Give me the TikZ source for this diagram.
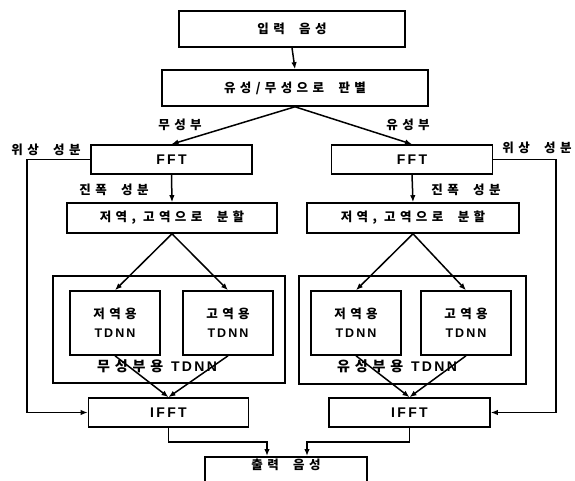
\documentclass[tikz,border=0pt]{standalone}
\usepackage{fontspec}
\setmainfont{Liberation Sans}
\newfontfamily\krfont[LetterSpace=35]{Noto Sans CJK KR}
\newcommand{\ko}[1]{{\krfont\bfseries #1}}
\usetikzlibrary{positioning, arrows.meta, calc}

\begin{document}
\begin{tikzpicture}[
  x=1pt, y=-1pt,
  font=\fontsize{12.5}{19}\selectfont,
  blk/.style={draw, line width=1.6pt, align=center, inner sep=2pt},
  frame/.style={draw, line width=1.6pt},
  arr/.style={-{Latex[length=7pt,width=5.5pt]}, line width=1.5pt},
  lbl/.style={inner sep=1pt, font=\fontsize{12.5}{14}\selectfont\krfont\bfseries},
  lat/.style={font=\fontsize{14}{19}\selectfont\bfseries}
]
\useasboundingbox (0,0) rectangle (575,481);

% --- input and voiced/unvoiced decision ---
\node[blk, minimum width=226, minimum height=36] (inp) at (292,29) {\ko{입력 \ 음성}};
\node[blk, minimum width=266, minimum height=36] (cls) at (295,88) {\ko{유성/무성으로 \ 판별}};
\draw[arr] (inp.south) -- (cls.north);

% --- FFT ---
\node[blk, lat, minimum width=161, minimum height=29] (fftL) at (171.5,159.5) {F\,F\,T};
\node[blk, lat, minimum width=161, minimum height=29] (fftR) at (412,159.5) {F\,F\,T};
\draw[arr] (cls.south) -- (fftL.north);
\draw[arr] (cls.south) -- (fftR.north);
\node[lbl] (uvL) at (180,125) {무성부};
\node[lbl] (vR) at (408,125) {유성부};

% --- band split ---
\node[blk, minimum width=210, minimum height=30] (splL) at (172,218) {\ko{저역, 고역으로 \ 분할}};
\node[blk, minimum width=212, minimum height=30] (splR) at (413,218) {\ko{저역, 고역으로 \ 분할}};
\draw[arr] (fftL.south) -- (splL.north);
\draw[arr] (fftR.south) -- (splR.north);
\node[lbl] (ampL) at (114,190) {진폭 \ 성분};
\node[lbl] (ampR) at (466,190) {진폭 \ 성분};

% --- TDNN groups ---
\node[frame, minimum width=232, minimum height=107] (grpL) at (169,329.5) {};
\node[frame, minimum width=227, minimum height=108] (grpR) at (412.5,330) {};
\node[blk, minimum width=90, minimum height=64] (loL) at (115,323) {\ko{저역용}\\{\bfseries T\,D\,N\,N}};
\node[blk, minimum width=90, minimum height=64] (hiL) at (228,323) {\ko{고역용}\\{\bfseries T\,D\,N\,N}};
\node[blk, minimum width=90, minimum height=64] (loR) at (356,323) {\ko{저역용}\\{\bfseries T\,D\,N\,N}};
\node[blk, minimum width=90, minimum height=64] (hiR) at (466,323) {\ko{고역용}\\{\bfseries T\,D\,N\,N}};
\node[inner sep=1pt, lat] (capL) at (157,366) {\ko{무성부용}\ \ T\,D\,N\,N};
\node[inner sep=1pt, lat] (capR) at (397,366) {\ko{유성부용}\ \ T\,D\,N\,N};
\draw[arr] (splL.south) -- (loL.north);
\draw[arr] (splL.south) -- (hiL.north);
\draw[arr] (splR.south) -- (loR.north);
\draw[arr] (splR.south) -- (hiR.north);

% --- IFFT ---
\node[blk, lat, minimum width=160, minimum height=29] (ifftL) at (168.5,412.5) {I\,F\,F\,T};
\node[blk, lat, minimum width=161, minimum height=29] (ifftR) at (409.5,412.5) {I\,F\,F\,T};
\draw[arr] (loL.south) -- (ifftL.north);
\draw[arr] (hiL.south) -- (ifftL.north);
\draw[arr] (loR.south) -- (ifftR.north);
\draw[arr] (hiR.south) -- (ifftR.north);

% phase bypass
\coordinate (phL) at (27,0);
\coordinate (phR) at (556,0);
\draw[arr] (fftL.west) -| (phL |- ifftL.west) -- (ifftL.west);
\draw[arr] (fftR.east) -| (phR |- ifftR.east) -- (ifftR.east);
\node[lbl] (phaseL) at (46,150) {위상 \ 성분};
\node[lbl] (phaseR) at (537,148) {위상 \ 성분};

% --- output ---
\node[blk, anchor=north, minimum width=162, inner ysep=4pt, text height=9pt, text depth=30pt] (out) at (286,456) {\ko{출력 \ 음성}};
\draw[arr] (ifftL.south) -- ++(0,14) -| ($(out.north)+(-19,0)$);
\draw[arr] (ifftR.south) -- ++(0,14) -| ($(out.north)+(21,0)$);

\end{tikzpicture}
\end{document}
